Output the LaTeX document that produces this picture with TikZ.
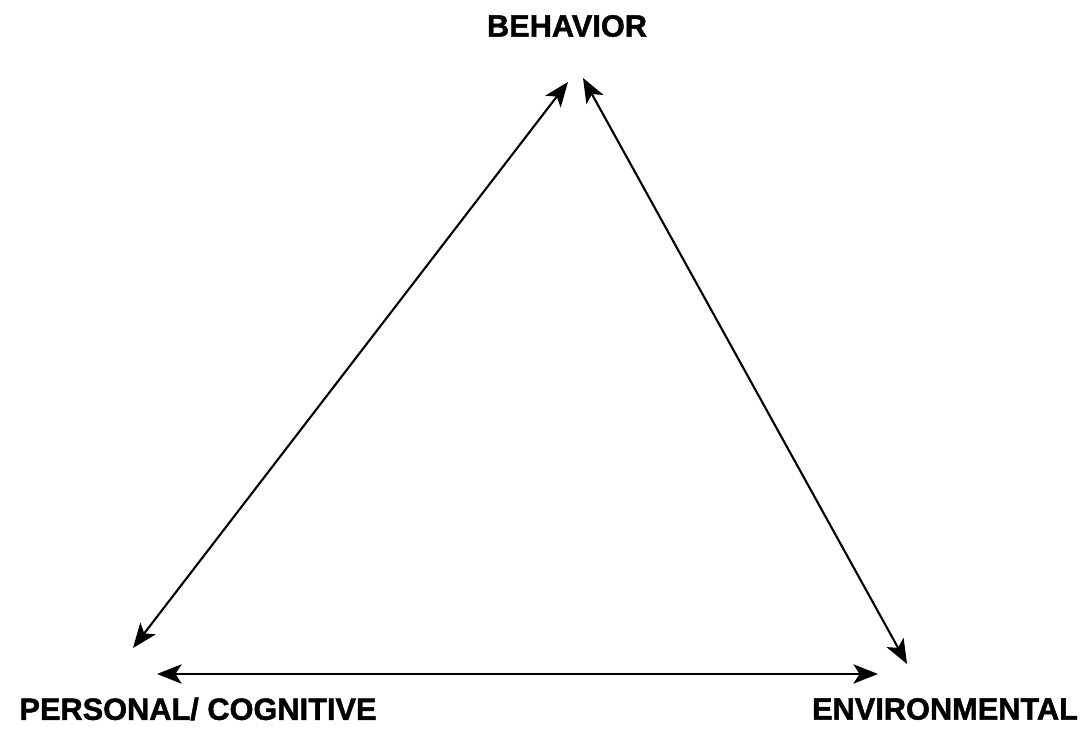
\documentclass[tikz,border=0pt]{standalone}
\usepackage{fontspec}
\setmainfont{Liberation Sans}[BoldFeatures={FakeBold=1.5}]
\usetikzlibrary{arrows.meta}
\tikzset{
    corner/.style={font=\fontsize{17.5}{20}\selectfont\bfseries, inner sep=0pt},
    link/.style={{Stealth[length=14pt,width=11pt,inset=3.5pt]}-{Stealth[length=14pt,width=11pt,inset=3.5pt]}, line width=1.2pt}
}
\begin{document}
\begin{tikzpicture}[x=0.02cm,y=-0.02cm]
        \useasboundingbox (0,0) rectangle (1092,729);
        \node[corner] (beh) at (567,26) {BEHAVIOR};
        \node[corner] (pers) at (198,709) {PERSONAL/ COGNITIVE};
        \node[corner] (env) at (945,709) {ENVIRONMENTAL};
        % arrow tips
        \coordinate (behL) at (568,82);
        \coordinate (behR) at (583,78);
        \coordinate (persU) at (133,648);
        \coordinate (persR) at (157,674);
        \coordinate (envL) at (878,674);
        \coordinate (envU) at (907,664);
        \draw[link] (persU) -- (behL);
        \draw[link] (behR) -- (envU);
        \draw[link] (persR) -- (envL);
    \end{tikzpicture}
\end{document}
